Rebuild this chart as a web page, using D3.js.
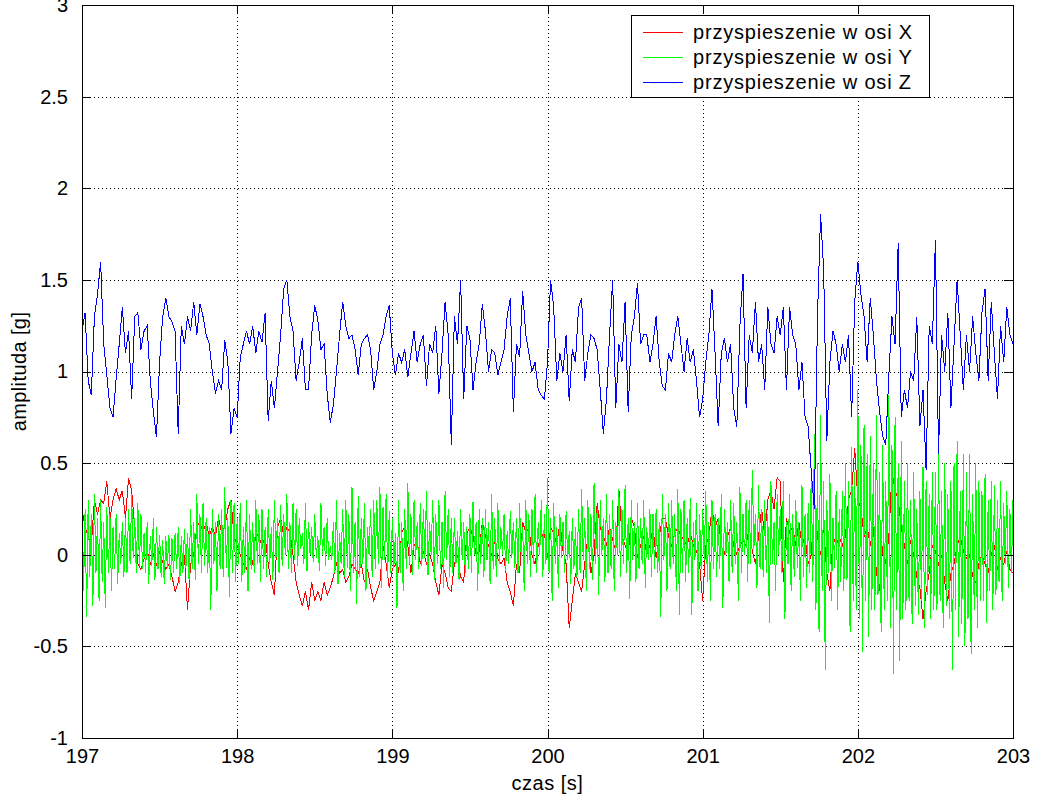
<!DOCTYPE html>
<html><head><meta charset="utf-8">
<script src="https://cdn.jsdelivr.net/npm/d3@7"></script>
<style>
body{margin:0;background:#fff}
svg{display:block}
text{font-family:"Liberation Sans",Arial,Helvetica,sans-serif;fill:#000}
</style>
</head><body>
<svg id="c" width="1040" height="794"></svg>
<script>
// ---- data ----
const xTicks = [197, 198, 199, 200, 201, 202, 203];
const xTickLabels = ["197", "198", "199", "200", "201", "202", "203"];
const yTicks = [-1, -0.5, 0, 0.5, 1, 1.5, 2, 2.5, 3];
const yTickLabels = ["-1", "-0.5", "0", "0.5", "1", "1.5", "2", "2.5", "3"];
const seriesNames = ["przyspieszenie w osi X", "przyspieszenie w osi Y", "przyspieszenie w osi Z"];
const seriesColors = ["#ff0000", "#00ff00", "#0000ff"];
const tStart = 197, dtXZ = 0.02, dtY = 0.01;

const accX = [
0.25,0.15,0.1,0.05,0.3,0.22,0.3,0.28,0.4,0.2,0.3,0.36,0.3,0.35,0.2,0.42,0.35,0.15,-0.05,-0.08,-0.02,0.02,-0.05,0.0,-0.06,0.02,-0.04,-0.08,-0.05,-0.12,-0.2,-0.15,-0.05,0.0,-0.3,-0.05,0.0,0.15,0.18,
0.12,0.18,0.1,0.15,0.1,0.2,0.12,0.15,0.25,0.3,0.1,0.05,0.0,-0.05,-0.08,-0.02,-0.05,0.12,0.1,0.05,0.1,-0.05,-0.15,-0.22,0.15,0.2,0.1,0.15,0.12,0.0,-0.15,-0.22,-0.28,-0.2,-0.3,-0.15,-0.25,
-0.2,-0.25,-0.15,-0.22,-0.18,-0.12,-0.05,-0.1,-0.08,-0.15,-0.12,-0.05,-0.08,-0.1,-0.05,-0.15,-0.08,-0.18,-0.25,-0.2,-0.15,0.05,-0.05,-0.18,-0.08,-0.05,-0.1,0.12,0.15,0.05,-0.1,0.05,0.08,-0.05,0.02,-0.05,0.0,
-0.05,-0.15,-0.22,-0.05,-0.1,-0.18,-0.2,-0.05,0.0,-0.12,-0.15,0.12,0.15,0.1,0.0,0.02,0.18,0.1,0.05,0.0,0.08,-0.02,-0.05,-0.02,-0.15,-0.2,-0.28,-0.05,-0.1,0.18,0.12,0.15,0.0,-0.05,0.05,0.1,0.12,-0.02,
0.15,0.12,0.05,0.18,0.02,-0.05,-0.4,-0.25,-0.1,-0.15,-0.2,-0.05,0.1,-0.1,0.0,0.28,0.15,0.1,0.05,0.15,0.08,0.02,0.36,0.1,0.05,0.0,0.2,0.15,-0.02,0.05,0.1,0.0,0.05,0.15,-0.02,0.1,0.2,
0.2,0.1,0.05,0.12,0.15,0.1,0.08,0.05,0.12,0.05,0.02,-0.05,-0.25,0.05,0.1,0.25,0.15,0.2,0.05,0.0,0.1,0.15,0.05,0.0,0.05,0.08,0.05,0.15,0.02,-0.05,0.1,0.25,0.1,0.3,0.35,0.25,0.42,
0.4,-0.15,0.2,0.12,0.15,0.05,0.18,0.05,0.1,-0.05,0.0,0.3,0.1,0.0,0.15,-0.1,-0.2,0.1,0.05,0.1,0.05,0.1,0.3,0.35,0.58,0.3,0.25,0.1,0.15,0.05,0.15,-0.1,-0.2,0.05,-0.05,0.1,0.45,0.35,
0.3,0.15,0.05,-0.05,0.08,0.0,-0.12,-0.18,-0.35,-0.2,-0.1,0.05,0.02,-0.05,0.0,-0.15,-0.25,-0.1,-0.05,0.05,0.1,0.02,-0.02,0.0,-0.12,-0.15,-0.05,0.0,-0.05,-0.1,0.0,0.05,-0.08,-0.02,-0.05,0.02,-0.08,-0.1
];

const accY = [
0.41,-0.2,0.25,-0.34,0.3,-0.12,0.22,-0.28,0.33,-0.1,
0.2,-0.25,0.3,-0.15,0.18,-0.29,0.26,-0.1,0.22,-0.2,
0.15,-0.08,0.22,-0.16,0.12,-0.05,0.18,-0.12,0.2,-0.1,
0.25,-0.05,0.33,-0.02,0.2,-0.1,0.28,-0.06,0.22,-0.08,
0.12,-0.1,0.18,-0.16,0.1,-0.06,0.2,-0.14,0.15,-0.08,
0.11,-0.12,0.08,-0.16,0.1,-0.07,0.11,-0.14,0.09,-0.1,
0.12,-0.08,0.15,-0.16,0.1,-0.1,0.14,-0.07,0.12,-0.14,
0.25,-0.08,0.18,-0.14,0.33,-0.05,0.22,-0.1,0.28,-0.06,
0.2,-0.1,0.15,-0.3,0.25,-0.05,0.18,-0.2,0.22,-0.08,
0.25,-0.12,0.37,-0.07,0.2,-0.23,0.3,-0.1,0.28,-0.15,
0.2,-0.05,0.28,-0.15,0.15,-0.1,0.3,-0.2,0.22,-0.08,
0.18,-0.1,0.3,-0.05,0.22,-0.15,0.25,-0.08,0.15,-0.12,
0.25,-0.05,0.15,-0.14,0.3,-0.02,0.2,-0.1,0.27,-0.06,
0.22,0.0,0.33,-0.08,0.18,-0.1,0.28,-0.03,0.25,-0.06,
0.2,0.03,0.12,-0.05,0.28,-0.09,0.18,0.0,0.15,-0.04,
0.22,-0.02,0.1,-0.09,0.28,0.0,0.15,-0.06,0.2,-0.03,
0.05,-0.03,0.18,-0.1,0.3,-0.16,0.12,-0.05,0.25,-0.12,
0.3,-0.07,0.22,-0.2,0.37,-0.1,0.18,-0.27,0.32,-0.12,
0.2,-0.05,0.28,-0.2,0.15,0.0,0.25,-0.12,0.3,-0.08,
0.3,-0.05,0.37,-0.18,0.26,-0.03,0.33,-0.12,0.24,-0.1,
0.2,-0.07,0.12,-0.29,0.3,-0.1,0.18,-0.2,0.25,-0.08,
0.39,-0.05,0.22,-0.11,0.3,-0.03,0.18,-0.08,0.28,-0.06,
0.25,-0.02,0.35,-0.11,0.18,0.0,0.3,-0.14,0.22,-0.05,
0.3,-0.08,0.18,-0.18,0.35,-0.03,0.25,-0.12,0.2,-0.1,
0.2,-0.05,0.13,-0.14,0.25,-0.03,0.18,-0.1,0.15,-0.08,
0.22,-0.1,0.29,0.0,0.18,-0.2,0.25,-0.05,0.2,-0.12,
0.25,-0.03,0.18,-0.16,0.33,-0.08,0.2,-0.12,0.28,-0.05,
0.15,0.0,0.22,-0.09,0.13,-0.05,0.24,-0.02,0.18,-0.07,
0.2,-0.1,0.28,0.0,0.15,-0.2,0.3,-0.05,0.22,-0.12,
0.25,-0.05,0.33,-0.1,0.18,0.0,0.3,-0.12,0.22,-0.05,
0.42,-0.1,0.2,-0.25,0.28,-0.05,0.15,-0.18,0.22,-0.02,
0.18,-0.1,0.24,-0.03,0.13,-0.16,0.2,-0.08,0.15,-0.12,
0.25,-0.1,0.36,-0.03,0.2,-0.2,0.3,-0.08,0.22,-0.14,
0.39,-0.05,0.25,-0.22,0.3,0.0,0.2,-0.15,0.33,-0.1,
0.22,-0.08,0.3,-0.2,0.18,0.0,0.36,-0.12,0.25,-0.05,
0.38,-0.1,0.2,-0.24,0.3,-0.03,0.18,-0.15,0.28,-0.08,
0.2,-0.05,0.3,-0.18,0.15,-0.03,0.25,-0.12,0.22,-0.08,
0.25,-0.1,0.18,-0.34,0.33,-0.03,0.22,-0.2,0.28,-0.08,
0.3,-0.05,0.22,-0.2,0.36,-0.33,0.25,-0.1,0.3,-0.15,
0.2,-0.1,0.31,-0.33,0.18,-0.03,0.28,-0.2,0.22,-0.08,
0.25,-0.03,0.35,-0.15,0.18,-0.25,0.3,-0.08,0.22,-0.12,
0.2,-0.08,0.33,-0.29,0.25,0.0,0.18,-0.15,0.3,-0.1,
0.28,-0.05,0.18,-0.25,0.37,-0.1,0.22,0.0,0.3,-0.15,
0.3,-0.05,0.46,0.03,0.22,-0.18,0.38,-0.08,0.25,-0.12,
0.3,-0.1,0.22,-0.37,0.4,-0.05,0.18,-0.2,0.33,0.0,
0.25,-0.1,0.4,-0.35,0.18,-0.05,0.33,-0.2,0.22,-0.12,
0.3,-0.07,0.18,-0.25,0.38,-0.12,0.22,-0.18,0.28,-0.1,
0.45,-0.15,0.66,-0.3,0.5,-0.42,0.76,-0.2,0.4,-0.63,
0.3,-0.1,0.44,-0.25,0.2,-0.07,0.35,-0.3,0.25,-0.15,
0.35,-0.2,0.5,-0.14,0.4,-0.42,0.59,-0.25,0.45,-0.3,
0.9,-0.35,0.6,-0.53,0.71,-0.25,0.55,-0.45,0.65,-0.3,
0.5,-0.3,0.76,-0.22,0.45,-0.42,0.6,-0.3,0.4,-0.25,
0.87,-0.4,0.6,-0.65,0.75,-0.3,0.5,-0.58,0.62,-0.35,
0.4,-0.3,0.5,-0.25,0.3,-0.38,0.45,-0.28,0.25,-0.33,
0.35,-0.25,0.48,-0.4,0.4,-0.22,0.33,-0.35,0.45,-0.3,
0.45,-0.3,0.55,-0.25,0.35,-0.4,0.5,-0.28,0.33,-0.35,
0.4,-0.63,0.5,-0.3,0.62,-0.45,0.35,-0.38,0.55,-0.5,
0.45,-0.35,0.55,-0.54,0.33,-0.3,0.5,-0.4,0.4,-0.25,
0.35,-0.25,0.44,-0.37,0.3,-0.2,0.4,-0.3,0.38,-0.22,
0.3,-0.15,0.4,-0.25,0.28,-0.05,0.35,-0.18,0.25,-0.1,
0.3
];

const accZ = [
1.22,1.32,0.95,0.87,1.3,1.42,1.6,1.15,0.98,0.80,0.75,0.96,1.15,1.35,1.1,1.22,0.85,1.3,1.32,1.12,1.22,1.25,0.95,0.78,0.64,1.05,1.3,1.4,1.3,1.27,1.22,0.66,1.25,1.15,1.3,1.22,1.38,1.2,1.37,
1.3,1.2,1.15,1.0,0.88,0.95,0.9,1.17,1.05,0.66,0.8,0.75,1.08,1.15,1.22,1.15,1.25,1.1,1.22,1.16,1.32,0.73,0.95,0.8,1.0,1.2,1.45,1.5,1.3,1.22,0.95,1.05,1.18,0.9,0.9,1.2,1.36,
1.28,1.12,1.15,0.88,0.72,0.82,1.0,1.2,1.38,1.25,1.18,1.2,1.12,0.98,1.15,1.18,1.2,1.12,0.9,1.0,1.15,1.2,1.3,1.36,1.1,0.98,1.1,1.05,1.12,0.97,1.1,1.22,1.05,1.15,1.2,0.92,1.15,
1.1,1.25,0.88,1.1,1.38,1.2,0.6,1.3,1.15,1.5,0.85,1.25,1.18,0.9,1.05,1.15,1.37,1.22,1.0,1.12,1.1,0.98,1.05,1.12,1.3,1.4,0.78,1.15,1.08,1.44,1.2,1.1,1.0,1.05,0.9,0.87,0.85,1.05,
1.5,1.35,0.95,1.1,1.0,1.2,0.84,1.12,1.05,1.35,1.4,0.95,1.1,1.2,1.18,1.12,0.9,0.66,0.85,1.2,1.5,0.8,1.15,1.05,1.38,0.78,1.2,1.3,1.48,1.15,1.2,1.2,1.05,1.15,1.3,1.05,0.92,
0.9,1.1,1.05,1.2,1.3,1.15,1.0,1.18,1.05,1.12,0.95,0.75,0.85,1.05,1.2,1.45,1.1,0.7,1.1,1.18,1.05,1.15,0.8,0.7,1.25,1.53,0.8,1.2,1.1,1.38,1.05,1.15,0.9,1.35,1.15,1.1,1.3,
1.2,1.35,0.9,1.35,1.2,1.15,0.9,1.05,0.75,0.7,0.45,0.25,1.3,1.86,1.55,0.62,1.05,1.22,1.15,1.0,1.15,1.05,1.2,0.75,1.38,1.6,1.42,1.3,1.05,1.4,1.2,0.95,0.78,0.65,0.6,0.98,1.3,1.15,
1.7,0.75,0.9,0.8,1.0,0.95,1.3,0.7,0.9,0.46,1.25,1.15,1.72,0.55,1.2,1.0,1.32,0.8,1.15,1.5,1.2,0.9,1.2,1.0,1.3,1.1,0.95,1.32,1.45,0.95,1.38,1.1,0.85,1.25,1.05,1.35,1.2,1.15
];

// ---- layout ----
const W = 1040, H = 794;
const L = 82, R = 1013, T = 5, B = 738;
const tickLen = 9;
const fontSize = 20;

const svg = d3.select("#c");
const x = d3.scaleLinear().domain([xTicks[0], xTicks[xTicks.length - 1]]).range([L, R]);
const y = d3.scaleLinear().domain([yTicks[0], yTicks[yTicks.length - 1]]).range([B, T]);

svg.append("rect").attr("width", W).attr("height", H).attr("fill", "#fff");

// grid (dotted)
const grid = svg.append("g").attr("stroke", "#000").attr("stroke-width", 1)
  .attr("stroke-dasharray", "1,3").attr("shape-rendering", "crispEdges");
grid.selectAll("line.gx").data(xTicks.slice(1, -1)).join("line").attr("class", "gx")
  .attr("x1", d => Math.round(x(d)) + 0.5).attr("x2", d => Math.round(x(d)) + 0.5)
  .attr("y1", T).attr("y2", B);
grid.selectAll("line.gy").data(yTicks.slice(1, -1)).join("line").attr("class", "gy")
  .attr("y1", d => Math.round(y(d)) + 0.5).attr("y2", d => Math.round(y(d)) + 0.5)
  .attr("x1", L).attr("x2", R);

// data lines
const plot = svg.append("g");
function drawSeries(vals, dt, color) {
  const line = d3.line().x((d, i) => x(tStart + i * dt)).y(d => y(d));
  plot.append("path").datum(vals).attr("d", line)
    .attr("fill", "none").attr("stroke", color).attr("stroke-width", 1)
    .attr("shape-rendering", "crispEdges");
}
drawSeries(accX, dtXZ, seriesColors[0]);
drawSeries(accY, dtY, seriesColors[1]);
drawSeries(accZ, dtXZ, seriesColors[2]);

// axes with inward ticks
const axG = svg.append("g").attr("font-size", fontSize);
const axBottom = d3.axisBottom(x).tickValues(xTicks).tickFormat((d, i) => xTickLabels[i])
  .tickSize(-tickLen).tickPadding(tickLen + 2);
const axLeft = d3.axisLeft(y).tickValues(yTicks).tickFormat((d, i) => yTickLabels[i])
  .tickSize(-tickLen).tickPadding(tickLen + 5);
const axTop = d3.axisTop(x).tickValues(xTicks).tickFormat("").tickSize(-tickLen);
const axRight = d3.axisRight(y).tickValues(yTicks).tickFormat("").tickSize(-tickLen);

function styleAxis(g) {
  g.select(".domain").remove();
  g.selectAll("line").attr("stroke", "#000").attr("shape-rendering", "crispEdges");
  g.selectAll("text").attr("fill", "#000")
    .attr("font-family", '"Liberation Sans",Arial,Helvetica,sans-serif').attr("font-size", fontSize);
}
axG.append("g").attr("transform", `translate(0,${B})`).call(axBottom).call(styleAxis);
axG.append("g").attr("transform", `translate(${L},0)`).call(axLeft).call(styleAxis);
axG.append("g").attr("transform", `translate(0,${T})`).call(axTop).call(styleAxis);
axG.append("g").attr("transform", `translate(${R},0)`).call(axRight).call(styleAxis);

// frame
svg.append("rect").attr("x", L + 0.5).attr("y", T + 0.5).attr("width", R - L).attr("height", B - T)
  .attr("fill", "none").attr("stroke", "#000").attr("stroke-width", 1).attr("shape-rendering", "crispEdges");

// axis titles
svg.append("text").attr("x", (L + R) / 2).attr("y", 790).attr("text-anchor", "middle")
  .attr("font-size", fontSize).attr("letter-spacing", "0.5px").text("czas [s]");
svg.append("text").attr("transform", `translate(26,${(T + B) / 2}) rotate(-90)`)
  .attr("text-anchor", "middle").attr("font-size", fontSize).attr("letter-spacing", "0.4px").text("amplituda [g]");

// legend
const lg = svg.append("g");
const lgX = 631, lgY = 15, lgW = 298, lgH = 82, rowH = 25;
lg.append("rect").attr("x", lgX + 0.5).attr("y", lgY + 0.5).attr("width", lgW).attr("height", lgH)
  .attr("fill", "#fff").attr("stroke", "#000").attr("shape-rendering", "crispEdges");
seriesNames.forEach((name, i) => {
  const cy = lgY + 17 + i * rowH;
  lg.append("line").attr("x1", lgX + 12).attr("x2", lgX + 52).attr("y1", cy + 0.5).attr("y2", cy + 0.5)
    .attr("stroke", seriesColors[i]).attr("shape-rendering", "crispEdges");
  lg.append("text").attr("x", lgX + 62).attr("y", cy + 7).attr("font-size", fontSize)
    .attr("letter-spacing", "0.8px").text(name);
});
</script>
</body></html>
